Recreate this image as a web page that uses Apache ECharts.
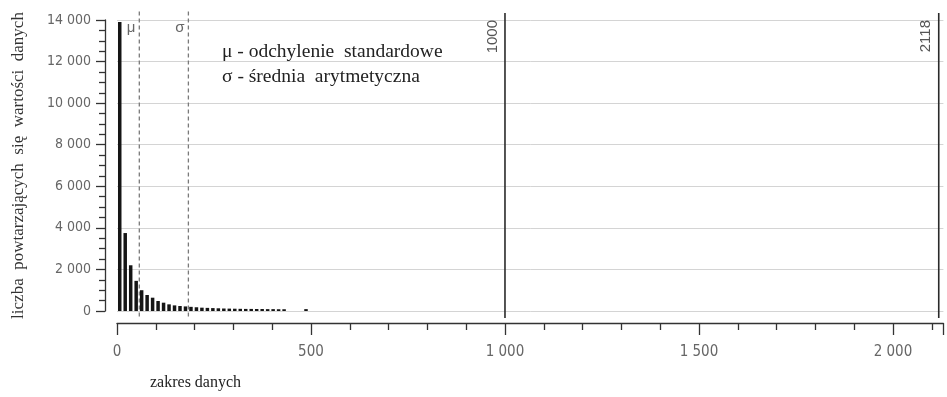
<!DOCTYPE html>
<html><head><meta charset="utf-8">
<script src="https://cdn.jsdelivr.net/npm/echarts@6/dist/echarts.min.js"></script>
<style>html,body{margin:0;padding:0;background:#fff}#c{width:947px;height:397px}</style>
</head><body><div id="c"></div>
<script>
// ---- data ----
const binWidth = 2118 / 150;
const binIndex = [0,1,2,3,4,5,6,7,8,9,10,11,12,13,14,15,16,17,18,19,20,21,22,23,24,25,26,27,28,29,30,34];
const binCounts = [13900,3750,2200,1450,1000,770,640,480,400,320,270,240,220,200,180,160,150,140,130,120,115,110,105,100,100,95,95,90,90,85,85,90];
const statLinesX = [57.5, 184];
const statLabels = ['μ', 'σ'];
const refLinesX = [1000, 2118];
const refLabels = ['1000', '2118'];
const yTicks = [0, 2000, 4000, 6000, 8000, 10000, 12000, 14000];
const xTicks = [0, 500, 1000, 1500, 2000];
const legendLines = ['μ - odchylenie  standardowe', 'σ - średnia  arytmetyczna'];
const yName = 'liczba  powtarzających  się  wartości  danych';
const xName = 'zakres danych';

const fmt = v => String(v).replace(/\B(?=(\d{3})+(?!\d))/g, ' ');
const tickFont = '"Liberation Sans Narrow","DejaVu Sans Condensed","Arial Narrow",sans-serif';
const serif = '"Liberation Serif","Times New Roman",serif';

const chart = echarts.init(document.getElementById('c'), null, {renderer: 'canvas'});
const barData = binIndex.map((b, i) => [(b + 0.5) * binWidth, binCounts[i]]);

const series = [{
  type: 'bar', data: barData, barWidth: 3.5,
  itemStyle: {color: '#151515'}, silent: true
}];
statLinesX.forEach(x => series.push({
  type: 'line', data: [[x, -270], [x, 14530]], clip: false, symbol: 'none', silent: true,
  lineStyle: {color: '#7a7a7a', width: 1.3, type: [4, 3]}
}));
refLinesX.forEach(x => series.push({
  type: 'line', data: [[x, -337], [x, 14337]], clip: false, symbol: 'none', silent: true,
  lineStyle: {color: '#2a2a2a', width: 1.6}
}));

chart.setOption({
  animation: false,
  grid: {left: 117, right: 3.6, top: 20, bottom: 86},
  xAxis: {
    type: 'value', min: 0, max: 2130, interval: 500, offset: 12,
    axisLine: {show: true, onZero: false, lineStyle: {color: '#333', width: 1.3}},
    axisTick: {show: true, length: 12, lineStyle: {color: '#333', width: 1.3}},
    minorTick: {show: true, splitNumber: 5, length: 7, lineStyle: {color: '#333', width: 1.3}},
    splitLine: {show: false},
    axisLabel: {
      margin: 22, color: '#666', fontSize: 15, fontFamily: tickFont,
      formatter: v => xTicks.includes(v) ? fmt(v) : ''
    }
  },
  yAxis: {
    type: 'value', min: 0, max: 14000, interval: 2000, offset: 12,
    name: yName, nameLocation: 'middle', nameGap: 78,
    nameTextStyle: {fontFamily: serif, fontSize: 17, color: '#333'},
    axisLine: {show: true, onZero: false, lineStyle: {color: '#333', width: 1.3}},
    axisTick: {show: true, length: 9, lineStyle: {color: '#333', width: 1.3}},
    minorTick: {show: true, splitNumber: 4, length: 6, lineStyle: {color: '#333', width: 1.3}},
    splitLine: {show: true, lineStyle: {color: '#d4d4d4', width: 1}},
    axisLabel: {
      margin: 14, color: '#666', fontSize: 14, fontFamily: tickFont,
      formatter: v => yTicks.includes(v) ? fmt(v) : ''
    }
  },
  series: series
});

const g = [];
statLinesX.forEach((x, i) => {
  const p = chart.convertToPixel({gridIndex: 0}, [x, 13600]);
  g.push({type: 'text', x: p[0] - 4, y: p[1], style: {
    text: statLabels[i], align: 'right', verticalAlign: 'middle',
    fill: '#666', font: '15px "Liberation Sans",sans-serif'}});
});
refLinesX.forEach((x, i) => {
  const p = chart.convertToPixel({gridIndex: 0}, [x, 14000]);
  g.push({type: 'text', x: p[0] - 5, y: p[1], rotation: Math.PI / 2, style: {
    text: refLabels[i], align: 'right', verticalAlign: 'bottom',
    fill: '#555', font: '15px "Liberation Sans",sans-serif'}});
});
legendLines.forEach((t, i) => {
  g.push({type: 'text', x: 222, y: 52 + i * 25, style: {
    text: t, fill: '#222', align: 'left', verticalAlign: 'middle', font: '19.5px ' + serif}});
});
g.push({type: 'text', x: 150, y: 383, style: {
  text: xName, fill: '#222', align: 'left', verticalAlign: 'middle', font: '16px ' + serif}});
chart.setOption({graphic: g});
</script>
</body></html>
